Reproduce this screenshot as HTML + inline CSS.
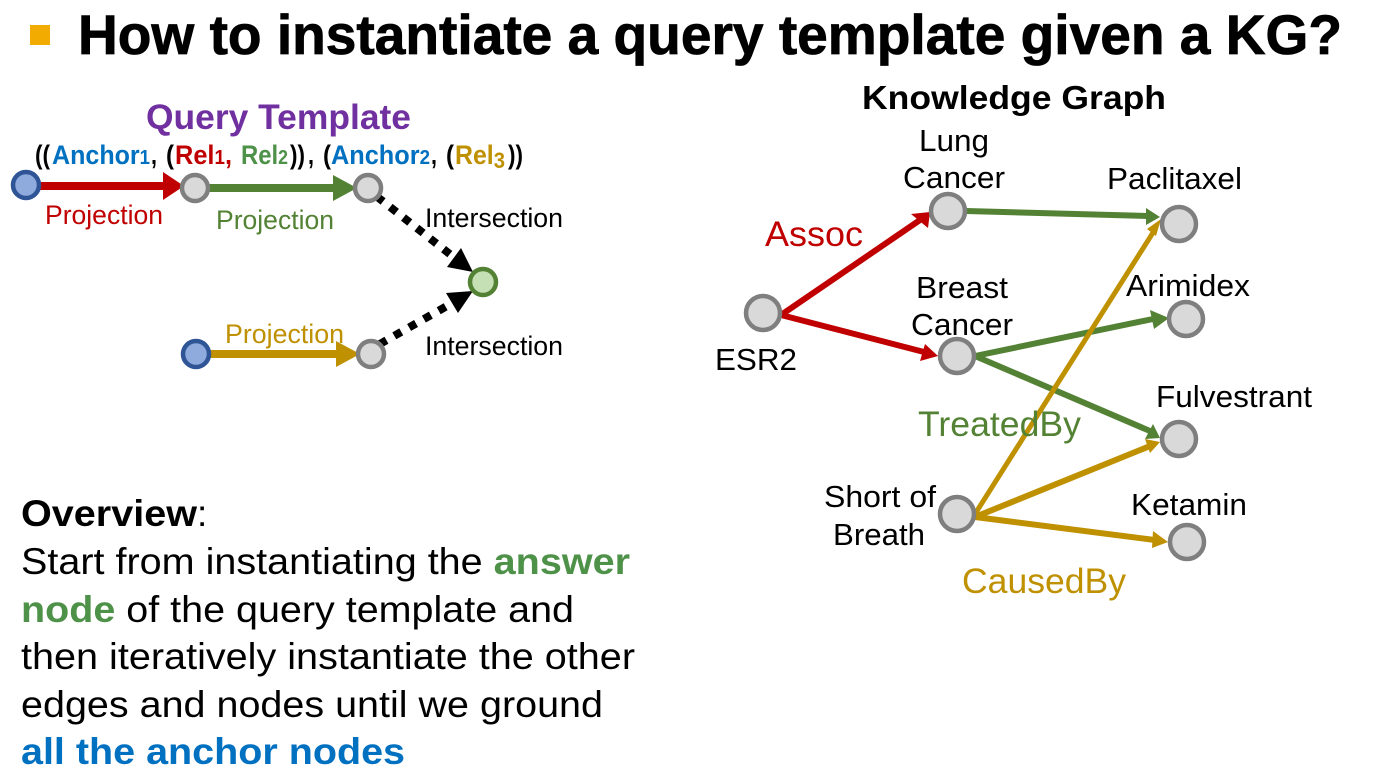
<!DOCTYPE html>
<html><head><meta charset="utf-8"><style>
html,body{margin:0;padding:0;background:#fff;width:1374px;height:780px;overflow:hidden}
svg{display:block}
text{font-family:"Liberation Sans",sans-serif}
</style></head><body>
<svg width="1374" height="780" viewBox="0 0 1374 780" xmlns="http://www.w3.org/2000/svg">
<rect x="30" y="25" width="20" height="20" fill="#f2ab00"/>
<text x="78" y="54" font-size="56" font-weight="700" stroke="#000" stroke-width="0.8" textLength="1264" lengthAdjust="spacingAndGlyphs">How to instantiate a query template given a KG?</text>

<text x="146" y="129" font-size="35" font-weight="700" fill="#7030a0" textLength="265" lengthAdjust="spacingAndGlyphs">Query Template</text>

<g font-size="27" font-weight="700" lengthAdjust="spacingAndGlyphs">
<text x="35" y="164" textLength="15" lengthAdjust="spacingAndGlyphs">((</text>
<text x="52" y="164" fill="#0070c0" textLength="98" lengthAdjust="spacingAndGlyphs">Anchor<tspan font-size="20">1</tspan></text>
<text x="151" y="164" textLength="6" lengthAdjust="spacingAndGlyphs">,</text>
<text x="166" y="164" textLength="8" lengthAdjust="spacingAndGlyphs">(</text>
<text x="175" y="164" fill="#c00000" textLength="57" lengthAdjust="spacingAndGlyphs">Rel<tspan font-size="20">1</tspan>,</text>
<text x="241" y="164" fill="#4e9148" textLength="47" lengthAdjust="spacingAndGlyphs">Rel<tspan font-size="20">2</tspan></text>
<text x="290" y="164" textLength="15" lengthAdjust="spacingAndGlyphs">))</text>
<text x="308" y="164" textLength="6" lengthAdjust="spacingAndGlyphs">,</text>
<text x="323" y="164" textLength="8" lengthAdjust="spacingAndGlyphs">(</text>
<text x="331" y="164" fill="#0070c0" textLength="99" lengthAdjust="spacingAndGlyphs">Anchor<tspan font-size="20">2</tspan></text>
<text x="431" y="164" textLength="6" lengthAdjust="spacingAndGlyphs">,</text>
<text x="446" y="164" textLength="8" lengthAdjust="spacingAndGlyphs">(</text>
<text x="455" y="164" fill="#bf9000" textLength="50" lengthAdjust="spacingAndGlyphs">Rel<tspan font-size="22" dy="4">3</tspan></text>
<text x="508" y="164" textLength="15" lengthAdjust="spacingAndGlyphs">))</text>
</g>

<g fill="none" stroke-linecap="butt">
<line x1="38" y1="186" x2="165" y2="186" stroke="#c00000" stroke-width="8"/>
<line x1="205" y1="188" x2="335" y2="188" stroke="#548235" stroke-width="8"/>
<line x1="208" y1="354" x2="338" y2="354" stroke="#bf9000" stroke-width="8"/>
<line x1="376.8" y1="196.5" x2="451" y2="255" stroke="#000" stroke-width="8" stroke-dasharray="8 9"/>
<line x1="379.5" y1="344.2" x2="447" y2="306" stroke="#000" stroke-width="8" stroke-dasharray="8 9"/>
</g>
<polygon points="163,172 184,186 163,200" fill="#c00000"/>
<polygon points="333,175 357,188 333,201" fill="#548235"/>
<polygon points="336,341 360,354 336,367" fill="#bf9000"/>
<polygon points="461,248 447,267 473,272" fill="#000"/>
<polygon points="446,293 458,313 473,291" fill="#000"/>

<g stroke-width="4.5">
<circle cx="26" cy="185" r="13" fill="#8faadc" stroke="#2f5597"/>
<circle cx="196" cy="354" r="13" fill="#8faadc" stroke="#2f5597"/>
<circle cx="195" cy="188" r="13" fill="#d9d9d9" stroke="#7f7f7f"/>
<circle cx="368" cy="188" r="13" fill="#d9d9d9" stroke="#7f7f7f"/>
<circle cx="371" cy="354" r="13" fill="#d9d9d9" stroke="#7f7f7f"/>
<circle cx="483" cy="282" r="13" fill="#c5e0b4" stroke="#548235"/>
</g>

<g font-size="27">
<text x="45" y="224" fill="#c00000" textLength="118" lengthAdjust="spacingAndGlyphs">Projection</text>
<text x="216" y="229" fill="#548235" textLength="118" lengthAdjust="spacingAndGlyphs">Projection</text>
<text x="225" y="343" fill="#bf9000" textLength="119" lengthAdjust="spacingAndGlyphs">Projection</text>
<text x="425" y="227" textLength="138" lengthAdjust="spacingAndGlyphs">Intersection</text>
<text x="425" y="355" textLength="138" lengthAdjust="spacingAndGlyphs">Intersection</text>
</g>

<g font-size="37">
<text x="21" y="526" font-weight="700" textLength="176" lengthAdjust="spacingAndGlyphs">Overview</text>
<text x="197" y="526">:</text>
<text x="21" y="574" textLength="609" lengthAdjust="spacingAndGlyphs">Start from instantiating the <tspan font-weight="700" fill="#4e9148">answer</tspan></text>
<text x="21" y="622" textLength="553" lengthAdjust="spacingAndGlyphs"><tspan font-weight="700" fill="#4e9148">node</tspan> of the query template and</text>
<text x="21" y="669" textLength="614" lengthAdjust="spacingAndGlyphs">then iteratively instantiate the other</text>
<text x="21" y="717" textLength="582" lengthAdjust="spacingAndGlyphs">edges and nodes until we ground</text>
<text x="21" y="764" font-weight="700" fill="#0070c0" textLength="384" lengthAdjust="spacingAndGlyphs">all the anchor nodes</text>
</g>

<text x="862" y="109" font-size="33" font-weight="700" textLength="304" lengthAdjust="spacingAndGlyphs">Knowledge Graph</text>

<g fill="none" stroke-width="6">
<line x1="781" y1="315" x2="920" y2="220" stroke="#c00000"/>
<line x1="781" y1="315" x2="924" y2="352" stroke="#c00000"/>
<line x1="966" y1="211" x2="1148" y2="216" stroke="#548235"/>
<line x1="975" y1="356" x2="1153" y2="319" stroke="#548235"/>
<line x1="975" y1="356" x2="1150" y2="431" stroke="#548235"/>
<line x1="975" y1="514" x2="1154" y2="231" stroke="#bf9000" stroke-width="5"/>
<line x1="975" y1="517" x2="1150" y2="446" stroke="#bf9000"/>
<line x1="975" y1="517" x2="1155" y2="540" stroke="#bf9000"/>
</g>
<polygon points="930,212 911,214 928,228" fill="#c00000"/>
<polygon points="938,356 925,344 920,361" fill="#c00000"/>
<polygon points="1161,219 1147,229 1156,236" fill="#bf9000"/>
<polygon points="1160,217 1146,208 1146,225" fill="#548235"/>
<polygon points="1169,318 1150,310 1154,329" fill="#548235"/>
<polygon points="1160,442 1145,439 1150,453" fill="#bf9000"/>
<polygon points="1160,438 1153,424 1145,439" fill="#548235"/>
<polygon points="1168,542 1153,531 1152,548" fill="#bf9000"/>

<g fill="#d9d9d9" stroke="#7f7f7f" stroke-width="4.5">
<circle cx="763" cy="313" r="17"/>
<circle cx="948" cy="211" r="17"/>
<circle cx="1179" cy="224" r="17"/>
<circle cx="957" cy="356" r="17"/>
<circle cx="1186" cy="319" r="17"/>
<circle cx="1179" cy="439" r="17"/>
<circle cx="957" cy="514" r="17"/>
<circle cx="1187" cy="542" r="17"/>
</g>

<g font-size="31">
<text x="919" y="151" textLength="70" lengthAdjust="spacingAndGlyphs">Lung</text>
<text x="903" y="188" textLength="102" lengthAdjust="spacingAndGlyphs">Cancer</text>
<text x="1107" y="189" textLength="135" lengthAdjust="spacingAndGlyphs">Paclitaxel</text>
<text x="916" y="298" textLength="92" lengthAdjust="spacingAndGlyphs">Breast</text>
<text x="911" y="335" textLength="102" lengthAdjust="spacingAndGlyphs">Cancer</text>
<text x="1126" y="296" textLength="124" lengthAdjust="spacingAndGlyphs">Arimidex</text>
<text x="715" y="370" textLength="82" lengthAdjust="spacingAndGlyphs">ESR2</text>
<text x="1156" y="407" textLength="156" lengthAdjust="spacingAndGlyphs">Fulvestrant</text>
<text x="824" y="507" textLength="112" lengthAdjust="spacingAndGlyphs">Short of</text>
<text x="833" y="545" textLength="92" lengthAdjust="spacingAndGlyphs">Breath</text>
<text x="1131" y="515" textLength="116" lengthAdjust="spacingAndGlyphs">Ketamin</text>
</g>
<g font-size="35">
<text x="765" y="246" fill="#c00000" textLength="98" lengthAdjust="spacingAndGlyphs">Assoc</text>
<text x="918" y="436" fill="#548235" textLength="163" lengthAdjust="spacingAndGlyphs">TreatedBy</text>
<text x="962" y="593" fill="#bf9000" textLength="164" lengthAdjust="spacingAndGlyphs">CausedBy</text>
</g>
</svg>
</body></html>
